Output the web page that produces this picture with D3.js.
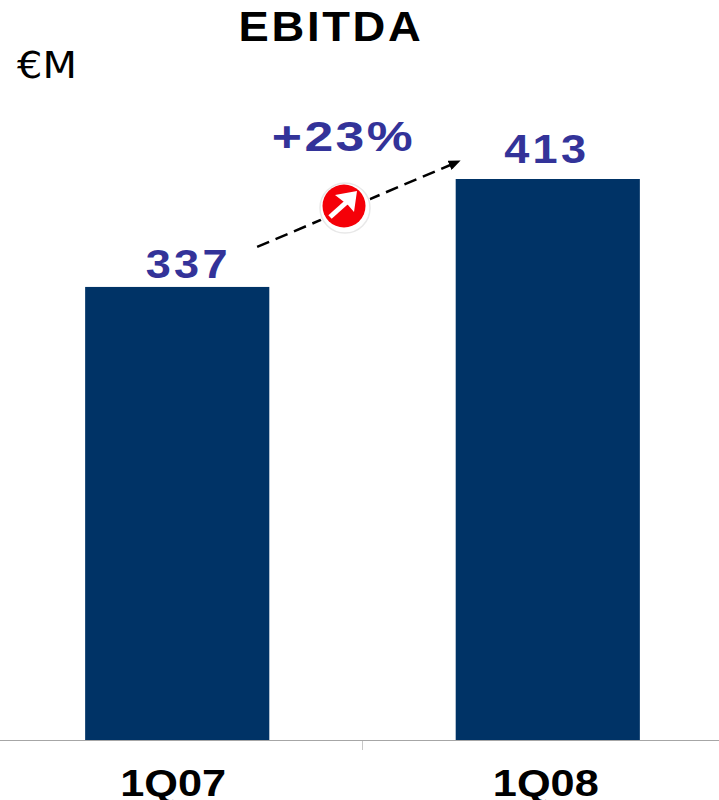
<!DOCTYPE html>
<html>
<head>
<meta charset="utf-8">
<script src="https://cdn.jsdelivr.net/npm/d3@7"></script>
<style>
  html, body { margin: 0; padding: 0; background: #fff; overflow: hidden; }
  text { font-family: "Liberation Sans", Arial, sans-serif; }
</style>
</head>
<body>
<script>
const categories = ["1Q07", "1Q08"];
const ebitda = [337, 413];
const chartTitle = "EBITDA";
const unitLabel = "€M";
const growthLabel = "+23%";

const width = 719, height = 800, baseline = 740;

const svg = d3.select("body").append("svg")
  .attr("width", width).attr("height", height)
  .style("display", "block");

const x = d3.scaleBand()
  .domain(categories)
  .range([-7.5, 732.5])
  .paddingInner(0.503)
  .paddingOuter(0.25);

const y = d3.scaleLinear().domain([18, 413]).range([baseline, 179]);
const barCentre = c => x(c) + x.bandwidth() / 2;

// Bold labels use a wide setting: the glyphs are stretched horizontally about their anchor
function wideLabel(parent, cx, by, size, stretch, spacing, fill, str) {
  return parent.append("text")
    .attr("transform", `translate(${cx},${by}) scale(${stretch},1)`)
    .attr("text-anchor", "middle")
    .attr("font-size", size)
    .attr("font-weight", "bold")
    .attr("letter-spacing", spacing)
    .attr("fill", fill)
    .text(str);
}

// Bars
svg.selectAll("rect.bar").data(ebitda).join("rect")
  .attr("class", "bar")
  .attr("x", (d, i) => x(categories[i]))
  .attr("y", d => y(d))
  .attr("width", x.bandwidth())
  .attr("height", d => baseline - y(d))
  .attr("fill", "#003366");

// Value labels above the bars; the first one is nudged towards the centre of the chart
const labelNudge = [11, -1];
const labelLift = [9, 16];
ebitda.forEach((v, i) => {
  wideLabel(svg, barCentre(categories[i]) + labelNudge[i], y(v) - labelLift[i],
    41, 1.1, 3, "#333399", v);
});

// Category axis, with its labels set in the same wide bold style
const axis = svg.append("g")
  .attr("transform", `translate(0,${baseline})`)
  .call(d3.axisBottom(x).tickSize(0).tickFormat(""));
axis.select(".domain").remove();
const categoryNudge = [-4, -2];
categories.forEach((c, i) => {
  wideLabel(svg, barCentre(c) + categoryNudge[i], baseline + 56, 37, 1.17, 0, "#000", c);
});

svg.append("line")
  .attr("x1", 0).attr("x2", width)
  .attr("y1", baseline + 0.5).attr("y2", baseline + 0.5)
  .attr("stroke", "#a6a6a6").attr("stroke-width", 1);

// Divider tick between the two quarters
const midX = (x(categories[0]) + x.bandwidth() + x(categories[1])) / 2;
svg.append("line")
  .attr("x1", midX).attr("x2", midX)
  .attr("y1", baseline + 1).attr("y2", baseline + 10)
  .attr("stroke", "#c8c8c8").attr("stroke-width", 1);

// Title and unit
wideLabel(svg, 331, 41, 42, 1.08, 2.5, "#000", chartTitle);

svg.append("text")
  .attr("transform", "translate(17,78) scale(1.05,1)")
  .attr("font-size", 38)
  .attr("fill", "#000")
  .style("font-family", '"DejaVu Sans", sans-serif')
  .text(unitLabel);

// Growth arrow running from the first bar's label towards the second bar
svg.append("defs").append("marker")
  .attr("id", "arrowhead")
  .attr("viewBox", "0 0 12 10")
  .attr("refX", 11).attr("refY", 5)
  .attr("markerWidth", 12).attr("markerHeight", 10)
  .attr("markerUnits", "userSpaceOnUse")
  .attr("orient", "auto")
  .append("path").attr("d", "M0,0L12,5L0,10Z").attr("fill", "#000");

const arrowStart = [x(categories[0]) + 172, y(ebitda[0]) - 40];
const arrowEnd = [x(categories[1]) + 4, y(ebitda[1]) - 18];
svg.append("line")
  .attr("x1", arrowStart[0]).attr("y1", arrowStart[1])
  .attr("x2", arrowEnd[0]).attr("y2", arrowEnd[1])
  .attr("stroke", "#000").attr("stroke-width", 2.5)
  .attr("stroke-dasharray", "13,7")
  .attr("marker-end", "url(#arrowhead)");

// Round badge sitting on the arrow
const badge = svg.append("g").attr("transform", "translate(344,206)");
badge.append("circle").attr("r", 27).attr("fill", "#fff");
badge.append("circle").attr("cx", 1).attr("cy", 2).attr("r", 25)
  .attr("fill", "none").attr("stroke", "#e8e8e8").attr("stroke-width", 1.5);
badge.append("circle").attr("r", 21.5).attr("fill", "#f50008");
badge.append("path")
  .attr("d", "M-14,11L5,-6")
  .attr("stroke", "#fff").attr("stroke-width", 5).attr("fill", "none");
badge.append("path")
  .attr("d", "M-9,-11L13,-15L10,6L4,-1Z")
  .attr("fill", "#fff");

// Growth label
wideLabel(svg, 343.5, 151, 42, 1.23, 2, "#333399", growthLabel);
</script>
</body>
</html>
